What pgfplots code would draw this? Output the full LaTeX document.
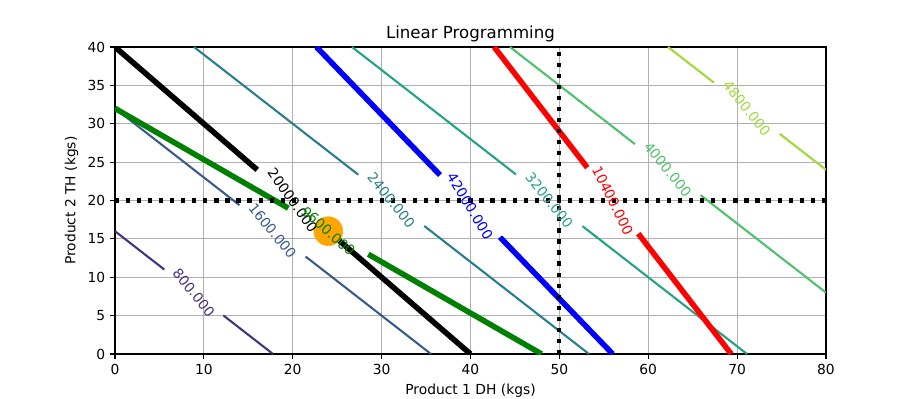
\documentclass[border=0pt]{standalone}
\usepackage{fontspec}
\setmainfont{DejaVu Sans}
\usepackage{pgfplots}
\pgfplotsset{compat=1.18}
\definecolor{cA}{HTML}{45327D}
\definecolor{cB}{HTML}{375B8C}
\definecolor{cC}{HTML}{287E8E}
\definecolor{cD}{HTML}{22A287}
\definecolor{cE}{HTML}{4EC16B}
\definecolor{cF}{HTML}{A0D938}
\definecolor{mplgreen}{HTML}{008000}
\definecolor{mplorange}{HTML}{FFA500}
\definecolor{gridgray}{HTML}{B0B0B0}
\pgfplotsset{
  clab/.style n args={3}{draw=none, mark=none, forget plot,
    nodes near coords={#3}, nodes near coords align={center},
    every node near coord/.append style={anchor=center, rotate=#1, text=#2,
      font=\fontsize{10}{12}\selectfont, inner sep=0pt}},
}
\begin{document}
\begin{tikzpicture}
\useasboundingbox (-1.15in,-0.44in) rectangle (8.03in,3.54in);
\begin{axis}[
  at={(0,0)}, anchor=south west,
  scale only axis, width=7.11in, height=3.07in,
  xmin=0, xmax=80, ymin=0, ymax=40,
  xtick={0,10,...,80}, ytick={0,5,...,40},
  grid=major, grid style={color=gridgray, line width=0.8bp},
  axis line style={line width=0.8bp},
  tick style={black, line width=0.8bp},
  tick align=outside, major tick length=3.5bp,
  xtick pos=bottom, ytick pos=left,
  ticklabel style={font=\fontsize{10}{12}\selectfont},
  /pgf/number format/assume math mode=true,
  title={Linear Programming},
  title style={font=\fontsize{12}{14}\selectfont, at={(0.5,1)}, anchor=base},
  xlabel={Product 1 DH (kgs)}, ylabel={Product 2 TH (kgs)},
  label style={font=\fontsize{10}{12}\selectfont},
  clip=true,
]
% contour lines 45x+50y
\addplot[cA, line width=1.5bp] coordinates {(0,16) (5.55,11.005)};
\addplot[cA, line width=1.5bp] coordinates {(12.19,5.029) (17.778,0)};
\addplot[cB, line width=1.5bp] coordinates {(0,32) (14,19.4)};
\addplot[cB, line width=1.5bp] coordinates {(21.45,12.695) (35.556,0)};
\addplot[cC, line width=1.5bp] coordinates {(8.889,40) (27.38,23.358)};
\addplot[cC, line width=1.5bp] coordinates {(34.8,16.68) (53.333,0)};
\addplot[cD, line width=1.5bp] coordinates {(26.667,40) (45.12,23.392)};
\addplot[cD, line width=1.5bp] coordinates {(52.6,16.66) (71.111,0)};
\addplot[cE, line width=1.5bp] coordinates {(44.444,40) (58.5,27.35)};
\addplot[cE, line width=1.5bp] coordinates {(65.9,20.69) (80,8)};
\addplot[cF, line width=1.5bp] coordinates {(62.222,40) (67.4,35.34)};
\addplot[cF, line width=1.5bp] coordinates {(74.8,28.68) (80,24)};
% constraint lines
\addplot[black, line width=4bp] coordinates {(0,40) (16,24)};
\addplot[black, line width=4bp] coordinates {(24,16) (40,0)};
\addplot[mplgreen, line width=4bp] coordinates {(0,32) (19.5,19)};
\addplot[mplgreen, line width=4bp] coordinates {(28.5,13) (48,0)};
\addplot[blue, line width=4bp] coordinates {(22.667,40) (36.57,23.316)};
\addplot[blue, line width=4bp] coordinates {(43.32,15.216) (56,0)};
\addplot[red, line width=4bp] coordinates {(42.667,40) (53.14,24.29)};
\addplot[red, line width=4bp] coordinates {(58.88,15.68) (69.333,0)};
% dotted bounds
\addplot[black, line width=3bp, dash pattern=on 3bp off 4.95bp] coordinates {(50,0) (50,40)};
\addplot[black, line width=3bp, dash pattern=on 3bp off 4.95bp] coordinates {(0,20) (80,20)};
% optimum point
\addplot[only marks, mark=*, mark size=10.4bp, color=mplorange, mark options={fill=mplorange, draw=mplorange}] coordinates {(24,16)};
% contour labels
\addplot[clab={-51.0}{cA}{800.000}] coordinates {(8.87,8.017)};
\addplot[clab={-51.0}{cB}{1600.000}] coordinates {(17.725,16.05)};
\addplot[clab={-51.0}{cC}{2400.000}] coordinates {(31.09,20.02)};
\addplot[clab={-51.0}{cD}{3200.000}] coordinates {(48.86,20.03)};
\addplot[clab={-51.0}{cE}{4000.000}] coordinates {(62.2,24.02)};
\addplot[clab={-51.0}{cF}{4800.000}] coordinates {(71.1,32.0)};
\addplot[clab={-54.5}{black}{20000.000}] coordinates {(20,20)};
\addplot[clab={-41.5}{mplgreen}{9600.000}] coordinates {(24,16)};
\addplot[clab={-58.8}{blue}{42000.000}] coordinates {(39.945,19.27)};
\addplot[clab={-63.8}{red}{10400.000}] coordinates {(56.01,19.99)};
\end{axis}
\end{tikzpicture}
\end{document}
